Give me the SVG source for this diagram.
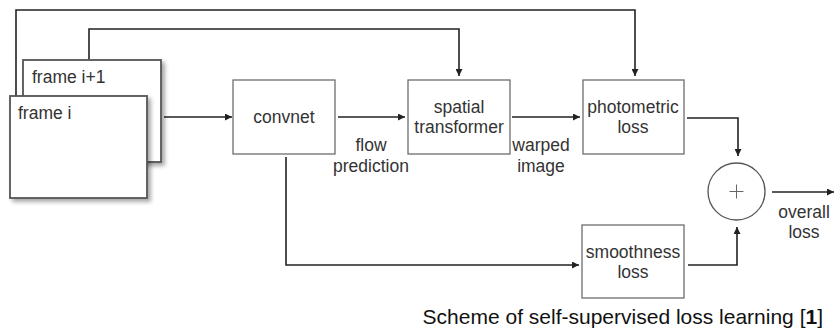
<svg xmlns="http://www.w3.org/2000/svg" width="834" height="330" viewBox="0 0 834 330">
<defs>
<style>
.box{fill:#fff;stroke:#6e6e6e;stroke-width:1.3}
.frame{fill:#fff;stroke:#555;stroke-width:1.8}
.conn{fill:none;stroke:#222;stroke-width:1.6}
.t{font-family:"Liberation Sans",Arial,sans-serif;font-size:17.5px;fill:#333;text-anchor:middle}
.tl{font-family:"Liberation Sans",Arial,sans-serif;font-size:17.5px;fill:#333}
.cap{font-family:"Liberation Sans",Arial,sans-serif;font-size:21px;fill:#111;text-anchor:end}
</style>
<marker id="ah" viewBox="0 0 10 10" refX="10" refY="5" markerWidth="7" markerHeight="7" markerUnits="userSpaceOnUse" orient="auto">
<path d="M0,0 L10,5 L0,10 z" fill="#222"/>
</marker>
<filter id="sh" x="-10%" y="-10%" width="130%" height="130%">
<feGaussianBlur in="SourceAlpha" stdDeviation="2"/>
<feOffset dx="3" dy="3" result="b"/>
<feComponentTransfer><feFuncA type="linear" slope="0.35"/></feComponentTransfer>
<feMerge><feMergeNode/><feMergeNode in="SourceGraphic"/></feMerge>
</filter>
</defs>
<rect width="834" height="330" fill="#fff"/>
<g id="connectors">
<path class="conn" d="M16,96 V10 H635 V76" marker-end="url(#ah)"/>
<path class="conn" d="M89,60 V29 H459 V76" marker-end="url(#ah)"/>
<path class="conn" d="M164,117 H232" marker-end="url(#ah)"/>
<path class="conn" d="M338,117 H405" marker-end="url(#ah)"/>
<path class="conn" d="M512,117 H580" marker-end="url(#ah)"/>
<path class="conn" d="M687,118 H738 V156" marker-end="url(#ah)"/>
<path class="conn" d="M772,192 H834" marker-end="url(#ah)"/>
<path class="conn" d="M688,265 H737 V227" marker-end="url(#ah)"/>
<path class="conn" d="M286,157 V265 H579" marker-end="url(#ah)"/>
</g>
<g id="frame-i1">
<rect class="frame" x="23" y="60" width="138" height="102" filter="url(#sh)"/>
<text class="tl" x="32" y="83">frame i+1</text>
</g>
<g id="frame-i">
<rect class="frame" x="10" y="96" width="137" height="102" filter="url(#sh)"/>
<text class="tl" x="18" y="119">frame i</text>
</g>
<g id="convnet">
<rect class="box" x="233" y="80" width="102" height="74"/>
<text class="t" x="284" y="123">convnet</text>
</g>
<g id="spatial-transformer">
<rect class="box" x="408" y="80" width="102" height="74"/>
<text class="t" x="459" y="113">spatial</text>
<text class="t" x="459" y="133">transformer</text>
</g>
<g id="photometric-loss">
<rect class="box" x="583" y="80" width="101" height="74"/>
<text class="t" x="633" y="113">photometric</text>
<text class="t" x="633" y="133">loss</text>
</g>
<g id="smoothness-loss">
<rect class="box" x="582" y="225" width="102" height="73"/>
<text class="t" x="633" y="258">smoothness</text>
<text class="t" x="633" y="278">loss</text>
</g>
<g id="sum">
<circle cx="736.5" cy="191.5" r="28.5" fill="#fff" stroke="#555" stroke-width="1.3"/>
<path d="M729.5,191.5 H743.5 M736.5,184.5 V198.5" stroke="#666" stroke-width="1"/>
</g>
<g id="labels">
<text class="t" x="371" y="151">flow</text>
<text class="t" x="371" y="172">prediction</text>
<text class="t" x="541" y="151">warped</text>
<text class="t" x="541" y="172">image</text>
<text class="t" x="804" y="218">overall</text>
<text class="t" x="804" y="238">loss</text>
</g>
<text class="cap" x="823" y="324">Scheme of self-supervised loss learning [<tspan font-weight="bold">1</tspan>]</text>
</svg>
